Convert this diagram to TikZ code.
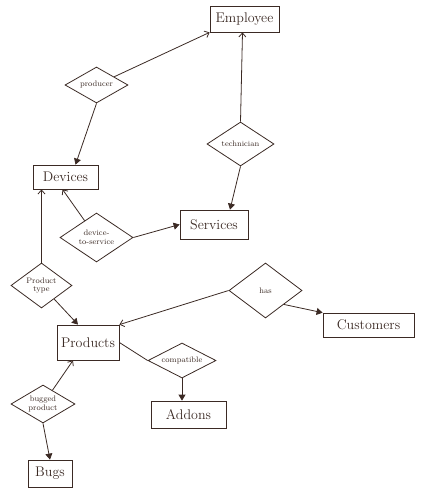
\documentclass[tikz,border=0pt]{standalone}
\usetikzlibrary{shapes.geometric,arrows.meta}
\definecolor{ink}{HTML}{3B2A24}
\begin{document}
\begin{tikzpicture}[x=1pt,y=-1pt,
  every node/.style={draw=ink,line width=0.8pt,text=ink,inner sep=0pt},
  entity/.style={rectangle,font=\fontsize{14}{16}\selectfont},
  rel/.style={diamond,aspect=1.6,align=center,font=\fontsize{8}{8.5}\selectfont},
  link/.style={draw=ink,line width=0.8pt},
  openarr/.style={link,-{Straight Barb[length=4pt,width=7pt]}},
  fillarr/.style={link,-{Triangle[length=6pt,width=7pt]}}]
\useasboundingbox (0,0) rectangle (424,500);
% entities
\node[entity,minimum width=69pt,minimum height=26pt] (emp) at (244.5,19) {Employee};
\node[entity,minimum width=65pt,minimum height=24pt] (dev) at (65.5,177) {Devices};
\node[entity,minimum width=68pt,minimum height=29pt] (serv) at (214,224.5) {Services};
\node[entity,minimum width=62pt,minimum height=35pt] (prod) at (88,342.5) {Products};
\node[entity,minimum width=91pt,minimum height=24pt] (cust) at (368.5,325) {Customers};
\node[entity,minimum width=75pt,minimum height=27pt] (addons) at (188.5,414.5) {Addons};
\node[entity,minimum width=44pt,minimum height=27pt] (bugs) at (50,473.5) {Bugs};
% relationships
\node[rel,minimum width=63pt,minimum height=36pt] (producer) at (96.5,85) {producer};
\node[rel,minimum width=67pt,minimum height=44pt] (tech) at (240.5,144) {technician};
\node[rel,minimum width=73pt,minimum height=49pt] (d2s) at (96.5,237.5) {device-\\to-service};
\node[rel,minimum width=61pt,minimum height=45pt] (ptype) at (41.5,285.5) {Product\\type};
\node[rel,minimum width=73pt,minimum height=55pt] (has) at (265.5,290.5) {has};
\node[rel,minimum width=68pt,minimum height=35pt] (compat) at (182,360.5) {compatible};
\node[rel,minimum width=64pt,minimum height=38pt] (bugged) at (43,404) {bugged\\product};
% connectors
\draw[openarr] (producer) -- (emp.south west);
\draw[fillarr] (producer.south) -- ([xshift=10pt]dev.north);
\draw[openarr] (tech.north) -- ([xshift=-2pt]emp.south);
\draw[fillarr] (tech.south) -- ([xshift=16pt]serv.north);
\draw[openarr] (d2s) -- ([xshift=-3pt]dev.south);
\draw[fillarr] (d2s.east) -- (serv.west);
\draw[openarr] (ptype.north) -- (ptype.north |- dev.south);
\draw[fillarr] (ptype) -- ([xshift=-10pt]prod.north);
\draw[openarr] (has.west) -- (prod.north east);
\draw[fillarr] (has.south east) -- (cust.165);
\draw[link] (prod.east) -- (compat.west);
\draw[fillarr] (compat.south) -- (compat.south |- addons.north);
\draw[openarr] (bugged) -- ([xshift=-15pt]prod.south);
\draw[fillarr] (bugged.south) -- (bugs.north);
\end{tikzpicture}
\end{document}
